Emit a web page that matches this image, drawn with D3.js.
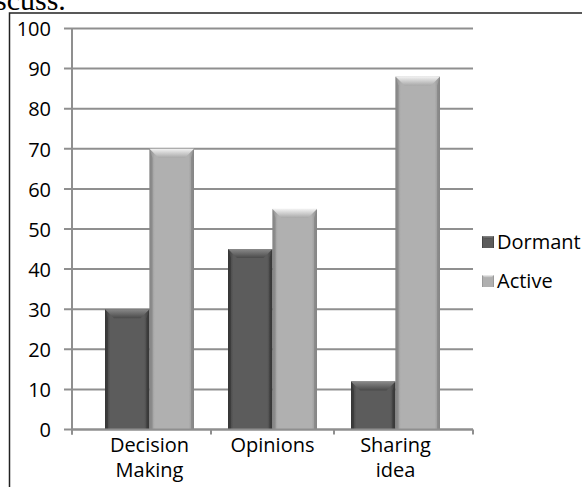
<!DOCTYPE html>
<html>
<head>
<meta charset="utf-8">
<script src="https://cdn.jsdelivr.net/npm/d3@7/dist/d3.min.js"></script>
<style>
  html, body { margin: 0; padding: 0; background: #fff; }
  svg { display: block; }
</style>
</head>
<body>
<script>
// Chart data
const categories = ["Decision Making", "Opinions", "Sharing idea"];
const categoryLines = [["Decision", "Making"], ["Opinions"], ["Sharing", "idea"]];
const seriesNames = ["Dormant", "Active"];
const dormant = [30, 45, 12];
const active = [70, 55, 88];
const yTicks = [0, 10, 20, 30, 40, 50, 60, 70, 80, 90, 100];

const W = 582, H = 487;
const font = "'Open Sans', Carlito, Calibri, sans-serif";
const fontSize = 20;

const svg = d3.select("body").append("svg")
  .attr("width", W).attr("height", H);

const defs = svg.append("defs");

// Shading for each series: darker toward the side edges, a lighter chamfer on top
const palettes = {
  Dormant: { edge: "#3a3a3a", mid: "#5c5c5c", topHi: "#8a8a8a", topLo: "#4a4a4a", side: "#333" },
  Active:  { edge: "#8e8e8e", mid: "#b0b0b0", topHi: "#f2f2f2", topLo: "#a8a8a8", side: "#7d7d7d" }
};
Object.entries(palettes).forEach(([name, p]) => {
  const g = defs.append("linearGradient").attr("id", "body-" + name)
    .attr("x1", 0).attr("x2", 1).attr("y1", 0).attr("y2", 0);
  g.append("stop").attr("offset", "0%").attr("stop-color", p.edge);
  g.append("stop").attr("offset", "12%").attr("stop-color", p.mid);
  g.append("stop").attr("offset", "88%").attr("stop-color", p.mid);
  g.append("stop").attr("offset", "100%").attr("stop-color", p.edge);
  const t = defs.append("linearGradient").attr("id", "top-" + name)
    .attr("x1", 0).attr("x2", 0).attr("y1", 0).attr("y2", 1);
  t.append("stop").attr("offset", "0%").attr("stop-color", p.topHi);
  t.append("stop").attr("offset", "100%").attr("stop-color", p.topLo);
});

// Surrounding frame and the line of text above it
svg.append("text")
  .attr("x", -5).attr("y", 10)
  .attr("font-family", "'Liberation Serif', 'Times New Roman', serif")
  .attr("font-size", 30)
  .attr("fill", "#000")
  .text("scuss.");

svg.append("rect")
  .attr("x", 9.5).attr("y", 13)
  .attr("width", W + 20).attr("height", H)
  .attr("fill", "none").attr("stroke", "#222").attr("stroke-width", 1.5);

// Scales
const plotLeft = 72, plotRight = 473;
const y = d3.scaleLinear().domain([0, 100]).range([429.5, 28.5]);
const x0 = d3.scaleBand().domain(categories).range([88, 457]);
const x1 = d3.scaleBand().domain(seriesNames)
  .range([17, x0.bandwidth() - 17]);

// Horizontal gridlines with ticks extending left of the axis
const grid = svg.append("g");
grid.selectAll("line")
  .data(yTicks)
  .join("line")
  .attr("x1", 64).attr("x2", plotRight)
  .attr("y1", d => y(d)).attr("y2", d => y(d))
  .attr("stroke", "#8f8f8f").attr("stroke-width", 2);

// Y axis labels through a d3 axis (lines hidden; gridlines drawn above)
const yAxis = svg.append("g")
  .attr("transform", "translate(51,0)")
  .call(d3.axisLeft(y).tickValues(yTicks).tickSize(0).tickPadding(0));
yAxis.select(".domain").remove();
yAxis.selectAll("text")
  .attr("font-family", font).attr("font-size", fontSize).attr("fill", "#000")
  .attr("dy", "0.36em");

// Vertical axis line
svg.append("line")
  .attr("x1", plotLeft).attr("x2", plotLeft)
  .attr("y1", y(100)).attr("y2", y(0) + 5)
  .attr("stroke", "#8f8f8f").attr("stroke-width", 2);

// Bars
const rows = categories.map((c, i) => ({ cat: c, values: [
  { key: "Dormant", value: dormant[i] },
  { key: "Active", value: active[i] }
]}));

const groups = svg.append("g").selectAll("g")
  .data(rows).join("g")
  .attr("transform", d => `translate(${x0(d.cat)},0)`);

const bars = groups.selectAll("g.bar")
  .data(d => d.values).join("g").attr("class", "bar");

const bev = 9;
bars.each(function(d) {
  const g = d3.select(this);
  const bx = x1(d.key), bw = x1.bandwidth();
  const top = y(d.value), bottom = y(0);
  const p = palettes[d.key];
  g.append("rect")
    .attr("x", bx).attr("y", top)
    .attr("width", bw).attr("height", bottom - top)
    .attr("fill", `url(#body-${d.key})`);
  // side chamfers
  g.append("polygon")
    .attr("points", [[bx, top], [bx + 3, top + bev], [bx + 3, bottom], [bx, bottom]].join(" "))
    .attr("fill", p.side).attr("opacity", 0.55);
  g.append("polygon")
    .attr("points", [[bx + bw, top], [bx + bw - 3, top + bev], [bx + bw - 3, bottom], [bx + bw, bottom]].join(" "))
    .attr("fill", p.side).attr("opacity", 0.55);
  // top chamfer
  g.append("polygon")
    .attr("points", [[bx, top], [bx + bw, top], [bx + bw - bev, top + bev], [bx + bev, top + bev]].join(" "))
    .attr("fill", `url(#top-${d.key})`);
});

// X axis line with tick marks at band boundaries
svg.append("line")
  .attr("x1", plotLeft).attr("x2", plotRight)
  .attr("y1", y(0)).attr("y2", y(0))
  .attr("stroke", "#8f8f8f").attr("stroke-width", 2);
const xTickPos = [plotLeft]
  .concat(categories.slice(1).map(c => x0(c)))
  .concat([plotRight]);
svg.append("g").selectAll("line")
  .data(xTickPos).join("line")
  .attr("x1", d => d).attr("x2", d => d)
  .attr("y1", y(0)).attr("y2", y(0) + 5)
  .attr("stroke", "#8f8f8f").attr("stroke-width", 2);

// Category labels
const catLabels = svg.append("g").selectAll("text")
  .data(categories).join("text")
  .attr("x", d => x0(d) + x0.bandwidth() / 2)
  .attr("y", 452)
  .attr("text-anchor", "middle")
  .attr("font-family", font).attr("font-size", fontSize).attr("fill", "#000");
catLabels.each(function(d, i) {
  d3.select(this).selectAll("tspan")
    .data(categoryLines[i]).join("tspan")
    .attr("x", x0(d) + x0.bandwidth() / 2)
    .attr("dy", (t, j) => j === 0 ? 0 : 25)
    .text(t => t);
});

// Legend
const legend = svg.append("g").attr("transform", "translate(482,0)");
const legY = [242, 281];
seriesNames.forEach((s, i) => {
  const row = legend.append("g").attr("transform", `translate(0,${legY[i]})`);
  row.append("rect")
    .attr("x", 0).attr("y", -6).attr("width", 12).attr("height", 12)
    .attr("fill", `url(#body-${s})`);
  row.append("polygon")
    .attr("points", [[0, -6], [12, -6], [9, -3], [3, -3]].join(" "))
    .attr("fill", `url(#top-${s})`);
  row.append("text")
    .attr("x", 15).attr("y", 0).attr("dy", "0.36em")
    .attr("font-family", font).attr("font-size", fontSize).attr("fill", "#000")
    .text(s);
});
</script>
</body>
</html>
